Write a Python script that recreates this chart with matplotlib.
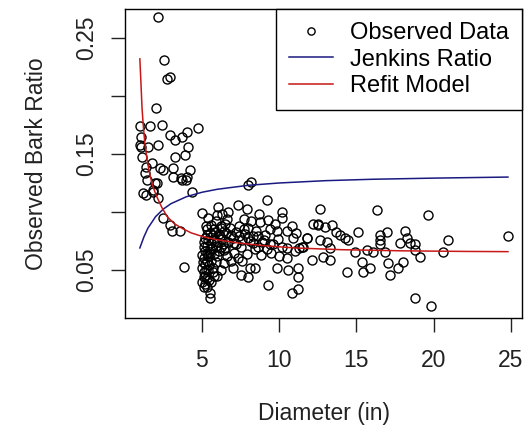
import matplotlib
matplotlib.use("Agg")
import matplotlib.pyplot as plt

plt.rcParams['font.family'] = ['Liberation Sans', 'DejaVu Sans']

# observed points in a few groups
diam_small = [2.15, 2.54, 2.73, 2.93, 2.02, 0.99, 1.63, 2.41, 4.74, 2.93, 3.70, 4.03,
              0.99, 2.15, 3.25, 4.09, 1.12, 1.76, 2.28, 3.25, 3.90, 1.31, 2.09, 3.12,
              4.22, 3.12, 3.70, 4.03, 1.18, 1.83, 2.15, 4.35, 2.48, 2.93, 3.06, 3.58,
              1.05, 1.38, 1.05, 1.51, 2.48, 3.64, 3.96, 1.44, 1.96, 1.38, 1.83, 3.85]
ratio_small = [0.268, 0.231, 0.215, 0.216, 0.190, 0.174, 0.174, 0.175, 0.172, 0.166, 0.165, 0.169,
               0.158, 0.158, 0.162, 0.156, 0.147, 0.142, 0.138, 0.147, 0.149, 0.134, 0.125, 0.138,
               0.136, 0.130, 0.128, 0.130, 0.116, 0.119, 0.112, 0.117, 0.095, 0.089, 0.084, 0.084,
               0.165, 0.139, 0.156, 0.156, 0.136, 0.129, 0.128, 0.128, 0.125, 0.115, 0.117, 0.053]

diam_mid = [5.0, 5.1, 5.2, 5.3, 5.1, 5.0, 5.2, 5.4, 5.3, 5.1, 5.0, 5.2, 5.4, 5.5, 5.3, 5.1,
            5.6, 5.4, 5.2, 5.7, 5.5, 5.8, 5.3, 5.6, 5.9, 5.4, 6.0, 5.0, 6.04, 5.52, 5.3, 5.6,
            5.8, 5.7, 5.9, 6.0, 6.1, 5.8, 6.2, 6.0, 6.3, 6.1, 6.4, 6.2, 6.5, 6.6, 6.3, 6.7,
            6.8, 6.9, 6.7, 6.5, 6.6, 6.4, 6.2, 6.0, 5.5, 5.7, 5.2, 5.6, 5.9,
            5.15, 5.25, 5.35, 5.05, 5.45, 5.15, 5.35, 5.25, 5.45, 5.55, 5.65, 5.75, 5.85,
            6.15, 6.35, 6.55, 6.25, 6.45]
ratio_mid = [0.040, 0.035, 0.038, 0.043, 0.048, 0.052, 0.055, 0.050, 0.058, 0.060, 0.063, 0.066,
             0.062, 0.068, 0.071, 0.070, 0.073, 0.076, 0.078, 0.080, 0.082, 0.085, 0.085, 0.089,
             0.092, 0.095, 0.097, 0.099, 0.104, 0.026, 0.035, 0.040, 0.045, 0.052, 0.057, 0.062,
             0.066, 0.064, 0.070, 0.074, 0.077, 0.081, 0.084, 0.088, 0.090, 0.094, 0.098, 0.100,
             0.086, 0.080, 0.074, 0.069, 0.062, 0.056, 0.050, 0.045, 0.030, 0.048, 0.045, 0.058,
             0.071,
             0.044, 0.050, 0.065, 0.057, 0.041, 0.074, 0.080, 0.088, 0.054, 0.064, 0.069, 0.077,
             0.083, 0.079, 0.072, 0.082, 0.086, 0.067]

diam_band = [7.0, 7.2, 7.4, 7.33, 7.9, 7.5, 7.6, 7.8, 8.0, 8.2, 7.1, 7.3, 7.7, 8.1, 8.3, 8.5,
             8.75, 9.18, 9.27, 8.6, 8.9, 9.1, 9.4, 9.83, 10.16, 10.16, 10.48, 9.6, 9.9, 10.2,
             10.48, 10.5, 10.9, 11.45, 11.8, 8.1, 8.43, 9.83, 10.6, 11.23, 11.23, 9.29, 10.8,
             11.23, 7.6, 8.8, 9.5, 11.0, 12.1, 12.5, 7.9, 8.4, 9.2, 10.0, 11.3, 11.55, 7.2, 8.7,
             9.7, 10.8, 11.1, 6.9, 7.0, 7.5, 8.0, 8.0, 8.2,
             7.1, 7.4, 7.7, 8.0, 8.3, 8.6, 9.0, 9.4]
ratio_band = [0.078, 0.083, 0.088, 0.106, 0.103, 0.070, 0.076, 0.081, 0.086, 0.092, 0.065, 0.060,
              0.094, 0.075, 0.079, 0.084, 0.091, 0.110, 0.093, 0.070, 0.074, 0.080, 0.085, 0.084,
              0.100, 0.095, 0.084, 0.072, 0.077, 0.070, 0.069, 0.060, 0.078, 0.070, 0.078, 0.052,
              0.052, 0.052, 0.050, 0.052, 0.044, 0.037, 0.030, 0.034, 0.058, 0.063, 0.065, 0.066,
              0.059, 0.090, 0.064, 0.068, 0.068, 0.062, 0.069, 0.070, 0.072, 0.098, 0.090, 0.088,
              0.082, 0.058, 0.052, 0.046, 0.044, 0.123, 0.126,
              0.073, 0.079, 0.085, 0.078, 0.073, 0.079, 0.076, 0.072]

diam_large = [12.64, 16.3, 19.65, 12.2, 12.5, 12.96, 13.4, 13.7, 13.93, 14.26, 14.47, 11.78,
              12.64, 13.06, 15.12, 16.95, 16.5, 16.5, 16.5, 18.14, 18.25, 17.8, 18.45, 18.8,
              20.9, 24.8, 13.3, 14.9, 15.66, 16.07, 16.85, 18.8, 19.1, 20.6, 12.85, 13.3,
              15.33, 15.44, 15.87, 17.06, 17.17, 17.7, 18.0, 14.37, 18.8, 19.8]
ratio_large = [0.103, 0.102, 0.097, 0.090, 0.089, 0.087, 0.089, 0.083, 0.080, 0.078, 0.076, 0.078,
               0.076, 0.074, 0.083, 0.083, 0.080, 0.076, 0.072, 0.084, 0.078, 0.073, 0.073, 0.072,
               0.076, 0.079, 0.069, 0.0655, 0.067, 0.0655, 0.0655, 0.067, 0.061, 0.0655, 0.061,
               0.059, 0.057, 0.048, 0.052, 0.056, 0.046, 0.052, 0.057, 0.048, 0.026, 0.019]

# model curves, read at a set of diameters
jenkins_x = [0.98, 1.25, 1.5, 2.0, 2.5, 3.0, 4.0, 5.0, 6.0, 8.0, 10.0, 13.0, 16.0, 20.0, 24.8]
jenkins_y = [0.069, 0.0787, 0.086, 0.096, 0.1025, 0.1072, 0.1132, 0.117, 0.1196, 0.123,
             0.125, 0.127, 0.1282, 0.1292, 0.1301]

refit_x = [0.98, 1.05, 1.12, 1.2, 1.3, 1.45, 1.6, 1.8, 2.05, 2.4, 2.75, 3.2, 3.7, 4.3,
           5.0, 6.0, 7.5, 9.0, 11.0, 14.0, 18.0, 22.0, 24.8]
refit_y = [0.232, 0.212, 0.19, 0.175, 0.160, 0.145, 0.134, 0.123, 0.114, 0.104, 0.096,
           0.090, 0.086, 0.082, 0.079, 0.076, 0.073, 0.071, 0.069, 0.0675, 0.0665, 0.066,
           0.0658]

x_ticks = [5, 10, 15, 20, 25]
y_ticks = [0.05, 0.10, 0.15, 0.20, 0.25]
y_tick_labels = ['0.05', '', '0.15', '', '0.25']

FS = 16.5

fig = plt.figure(figsize=(5.3, 4.38), dpi=100)
ax = fig.add_axes([125 / 530, 1 - 318 / 438, 397 / 530, 309 / 438])

diam = diam_small + diam_mid + diam_band + diam_large
ratio = ratio_small + ratio_mid + ratio_band + ratio_large
ax.plot(diam, ratio, linestyle='none', marker='o', markersize=6.5,
        markerfacecolor='none', markeredgecolor='black', markeredgewidth=1.0,
        label='Observed Data')
ax.plot(jenkins_x, jenkins_y, color='#1a1a80', lw=1.1, label='Jenkins Ratio')
ax.plot(refit_x, refit_y, color='#c81818', lw=1.1, label='Refit Model')

ax.set_xlim(0.02, 25.71)
ax.set_ylim(0.0086, 0.275)
ax.set_xticks(x_ticks)
ax.set_yticks(y_ticks)
ax.set_yticklabels(y_tick_labels, rotation=90, va='center')
ax.tick_params(direction='out', length=10, width=1, labelsize=FS, colors='#222222')
ax.tick_params(axis='x', pad=12)
ax.tick_params(axis='y', pad=9)
for sp in ax.spines.values():
    sp.set_linewidth(1.0)

ax.set_xlabel('Diameter (in)', fontsize=FS, labelpad=22, color='#222222')
ax.set_ylabel('Observed Bark Ratio', fontsize=FS, labelpad=20, color='#222222')

leg = ax.legend(loc='upper right', bbox_to_anchor=(1.0, 1.0), borderaxespad=0,
                fancybox=False, framealpha=1, edgecolor='black', fontsize=FS + 0.5,
                handlelength=1.9, handletextpad=0.7, labelspacing=0.2,
                borderpad=0.55, markerscale=0.8)
leg.get_frame().set_linewidth(1.0)

fig.savefig('out.png', dpi=100)
